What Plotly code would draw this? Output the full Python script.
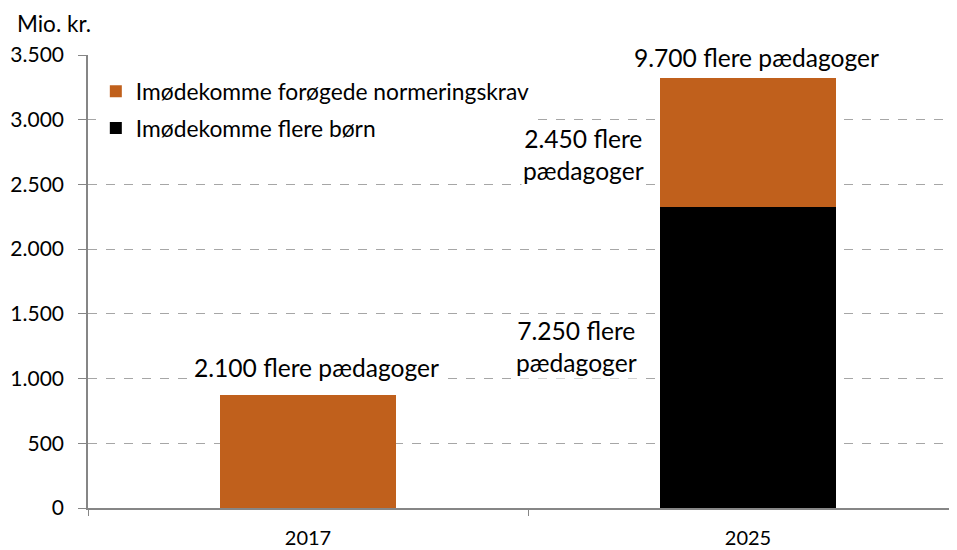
import plotly.graph_objects as go

years = ["2017", "2025"]
born = [0, 2325]          # Imødekomme flere børn
norm = [870, 1000]        # Imødekomme forøgede normeringskrav
series_names = ["Imødekomme flere børn", "Imødekomme forøgede normeringskrav"]
y_ticks = [0, 500, 1000, 1500, 2000, 2500, 3000, 3500]
labels = ["2.100 flere pædagoger", "9.700 flere pædagoger",
          "2.450 flere<br>pædagoger", "7.250 flere<br>pædagoger"]

FONT = "Lato"
ORANGE = "#C0601C"
GRAY = "#A6A6A6"

fig = go.Figure()
fig.add_trace(go.Bar(x=years, y=born, name=series_names[0], marker_color="#000000",
                     marker_line_width=0, width=0.4, legendgroup="a", legendrank=2))
fig.add_trace(go.Bar(x=years, y=norm, name=series_names[1], marker_color=ORANGE,
                     marker_line_width=0, width=0.4, legendgroup="b", legendrank=1))

ann_font = dict(family=FONT, size=24.6, color="#000000")
annotations = [
    dict(text="Mio. kr.", xref="paper", yref="paper", x=-0.084, y=1.0706,
         xanchor="left", yanchor="middle", showarrow=False,
         font=dict(family=FONT, size=22.5, color="#000000")),
    dict(text=labels[0], xref="x", yref="y", x=0.02, y=1085, xanchor="center",
         yanchor="middle", showarrow=False, bgcolor="white", font=ann_font),
    dict(text=labels[1], xref="x", yref="y", x=1.02, y=3478, xanchor="center",
         yanchor="middle", showarrow=False, bgcolor="white", font=ann_font),
    dict(text=labels[2], xref="x", yref="y", x=0.625, y=2730, xanchor="center",
         yanchor="middle", showarrow=False, bgcolor="white", font=ann_font, align="center"),
    dict(text=labels[3], xref="x", yref="y", x=0.61, y=1250, xanchor="center",
         yanchor="middle", showarrow=False, bgcolor="white", font=ann_font, align="center"),
]

fig.update_layout(
    width=957, height=550,
    margin=dict(l=80, r=8, t=47, b=50, autoexpand=False),
    barmode="stack",
    separators=",.",
    plot_bgcolor="white", paper_bgcolor="white",
    font=dict(family=FONT, size=19, color="#000000"),
    showlegend=True,
    legend=dict(x=0.009, y=0.967, xanchor="left", yanchor="top",
                bgcolor="white", traceorder="grouped", tracegroupgap=4,
                font=dict(family=FONT, size=22.8, color="#000000"),
                itemwidth=30),
    annotations=annotations,
    bargap=0.6,
)
fig.update_xaxes(
    type="category", range=[-0.5, 1.475], tickson="boundaries",
    showline=True, linecolor="#868686", linewidth=1.5,
    ticks="outside", ticklen=6, tickcolor="#868686", automargin=False,
    showgrid=False, tickfont=dict(family=FONT, size=20), ticklabelstandoff=11,
)
fig.update_yaxes(
    range=[0, 3500], tickvals=y_ticks, tickformat=",d",
    showline=True, linecolor="#868686", linewidth=1.5,
    ticks="outside", ticklen=8, tickcolor="#868686", automargin=False,
    showgrid=True, gridcolor=GRAY, griddash="dash", gridwidth=1,
    zeroline=False, tickfont=dict(family=FONT, size=21), ticklabelstandoff=10,
)

fig.write_html("out.html")
